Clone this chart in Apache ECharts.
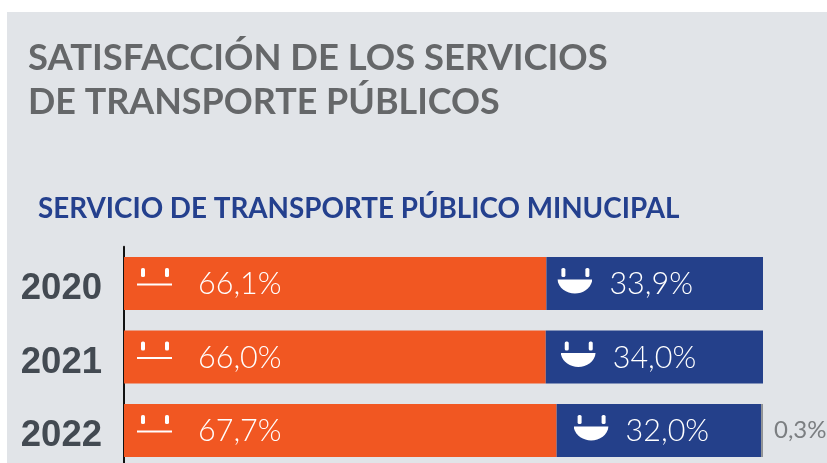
<!DOCTYPE html>
<html>
<head>
<meta charset="utf-8">
<style>
html,body{margin:0;padding:0;background:#fff}
#mainChart{width:827px;height:463px}
</style>
<script src="https://cdn.jsdelivr.net/npm/echarts@6/dist/echarts.min.js"></script>
</head>
<body>
<div id="mainChart"></div>
<script>
var years = ['2020', '2021', '2022'];
var insatisfechos = [66.1, 66.0, 67.7];
var satisfechos = [33.9, 34.0, 32.0];
var sinRespuesta = [null, null, 0.3];

// sangria de la etiqueta azul en cada barra, en el original no es igual
var azulInset = [11, 15, 17];

function svgIcon(body) {
	return 'data:image/svg+xml;charset=utf-8,' + encodeURIComponent(
		'<svg xmlns="http://www.w3.org/2000/svg" width="35" height="33" viewBox="0 0 35 33">' + body + '</svg>');
}
var ojos = '<rect x="4" y="1" width="4" height="9" rx="1.6" fill="#fff"/><rect x="28" y="1" width="4" height="9" rx="1.6" fill="#fff"/>';
var iconoSerio = svgIcon(ojos + '<rect x="0" y="16.5" width="35" height="2" fill="#fff"/>');
var iconoFeliz = svgIcon(ojos + '<path d="M0 12.5 H35 C34 21 26 26.5 17.5 26.5 C9 26.5 1 21 0 12.5 Z" fill="#fff"/>');

function fmt(v) {
	return v.toFixed(1).replace('.', ',') + '%';
}
function richLabel(image, gap) {
	return {
		icon: { width: 35, height: 33, backgroundColor: { image: image } },
		gap: { width: gap },
		val: { color: '#fff', fontFamily: 'Lato', fontWeight: 300, fontSize: 30.5, padding: [2, 0, 0, 0] }
	};
}

var mainChart = echarts.init(document.getElementById('mainChart'));
var options = {
	animation: false,
	backgroundColor: '#fff',
	graphic: [
		{ type: 'rect', z: -1, shape: { x: 7, y: 12, width: 820, height: 451 }, style: { fill: '#e1e4e8' } },
		{ type: 'text', left: 28, top: 40, style: { text: 'SATISFACCIÓN DE LOS SERVICIOS', fill: '#656769', font: 'bold 36.4px Lato' } },
		{ type: 'text', left: 28, top: 84, style: { text: 'DE TRANSPORTE PÚBLICOS', fill: '#656769', font: 'bold 35.9px Lato' } },
		{ type: 'text', left: 38, top: 195, style: { text: 'SERVICIO DE TRANSPORTE PÚBLICO MINUCIPAL', fill: '#24408e', font: 'bold 27.8px Lato' } }
	],
	grid: { left: 124, top: 246.75, width: 639, height: 220.5, outerBoundsMode: 'none' },
	xAxis: { type: 'value', min: 0, max: 100, show: false },
	yAxis: {
		type: 'category',
		inverse: true,
		data: years,
		axisTick: { show: false },
		axisLine: { lineStyle: { color: '#111', width: 2 } },
		axisLabel: { color: '#434a52', fontFamily: 'Liberation Sans', fontWeight: 'bold', fontSize: 36.5, margin: 22, verticalAlign: 'top', lineHeight: 11 }
	},
	series: [
		{
			name: 'Insatisfecho',
			type: 'bar',
			stack: 'total',
			barWidth: 53,
			itemStyle: { color: '#f15722' },
			data: insatisfechos,
			label: {
				show: true,
				position: 'insideLeft',
				distance: 13,
				formatter: function (p) { return '{icon|}{gap|}{val|' + fmt(p.value) + '}'; },
				rich: richLabel(iconoSerio, 26)
			}
		},
		{
			name: 'Satisfecho',
			type: 'bar',
			stack: 'total',
			barWidth: 53,
			itemStyle: { color: '#24408a' },
			data: satisfechos.map(function (v, i) {
				return { value: v, label: { distance: azulInset[i] } };
			}),
			label: {
				show: true,
				position: 'insideLeft',
				formatter: function (p) { return '{icon|}{gap|}{val|' + fmt(p.value) + '}'; },
				rich: richLabel(iconoFeliz, 17)
			}
		},
		{
			name: 'Sin respuesta',
			type: 'bar',
			stack: 'total',
			barWidth: 53,
			itemStyle: { color: '#8f9194' },
			data: sinRespuesta,
			label: {
				show: true,
				position: 'right',
				distance: 11,
				color: '#7b7e81',
				fontFamily: 'Lato',
				fontWeight: 400,
				fontSize: 24,
				formatter: function (p) { return fmt(p.value); }
			}
		}
	]
};
mainChart.setOption(options);
</script>
</body>
</html>
